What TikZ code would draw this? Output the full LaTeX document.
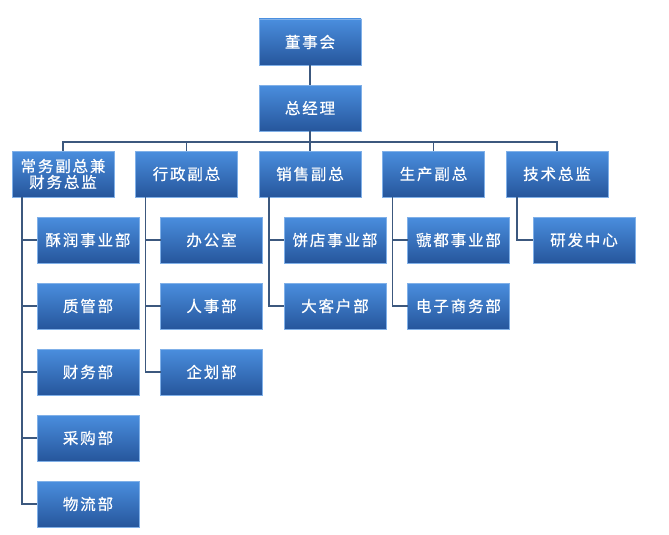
\documentclass[tikz,border=0pt]{standalone}
\usepackage{fontspec}
\newfontfamily\cjk[FakeBold=0.5, LetterSpace=12]{Noto Sans CJK SC}
\usetikzlibrary{positioning, shadows}
\definecolor{boxtop}{RGB}{74,142,222}
\definecolor{boxbot}{RGB}{38,86,156}
\definecolor{linkcol}{RGB}{60,88,126}
\tikzset{
    unit/.style={rectangle, draw=boxtop!70!white, line width=0.4pt,
        top color=boxtop, bottom color=boxbot, text=white,
        minimum width=102pt, minimum height=46pt, inner sep=1pt, outer sep=0pt,
        align=center, font=\cjk\fontsize{15.5}{18}\selectfont,
        drop shadow={shadow xshift=0.8pt, shadow yshift=-1.2pt, fill=black!35, opacity=0.5}},
    link/.style={draw=linkcol, line width=1.5pt},
}
\begin{document}
\begin{tikzpicture}[x=1pt, y=1pt]
        \useasboundingbox (0,0) rectangle (669,-535);

            % Top
            \node[unit] (board) at (310,-42) {董事会};
            \node[unit, below=20pt of board] (gm) {总经理};

            % Vice presidents
            \node[unit, below=20pt of gm] (sales) {销售副总};
            \node[unit, left=21.5pt of sales] (admin) {行政副总};
            \node[unit, left=21.5pt of admin] (fin) {常务副总兼\\[-2pt]财务总监};
            \node[unit, right=21.5pt of sales] (prod) {生产副总};
            \node[unit, right=21.5pt of prod] (tech) {技术总监};

            % Departments
            \node[unit, anchor=north west] (su) at ([shift={(25pt,-20pt)}]fin.south west) {酥润事业部};
            \node[unit, below=20pt of su] (qc) {质管部};
            \node[unit, below=20pt of qc] (acct) {财务部};
            \node[unit, below=20pt of acct] (buy) {采购部};
            \node[unit, below=20pt of buy] (logi) {物流部};

            \node[unit, anchor=north west] (office) at ([shift={(25pt,-20pt)}]admin.south west) {办公室};
            \node[unit, below=20pt of office] (hr) {人事部};
            \node[unit, below=20pt of hr] (plan) {企划部};

            \node[unit, anchor=north west] (shop) at ([shift={(25pt,-20pt)}]sales.south west) {饼店事业部};
            \node[unit, below=20pt of shop] (key) {大客户部};

            \node[unit, anchor=north west] (hao) at ([shift={(25pt,-20pt)}]prod.south west) {虢都事业部};
            \node[unit, below=20pt of hao] (ecom) {电子商务部};

            \node[unit, anchor=north west] (rd) at ([shift={(27pt,-20pt)}]tech.south west) {研发中心};

            % Connectors
            \coordinate (bus) at ([yshift=-11pt]gm.south);
            \draw[link] (board) -- (gm);
            \draw[link] (gm) -- (bus);
            \foreach \vp in {fin, admin, sales, prod, tech}
                \draw[link] (bus) -| (\vp.north);

            \foreach \vp/\dept in {fin/su, fin/qc, fin/acct, fin/buy, fin/logi,
                                   admin/office, admin/hr, admin/plan,
                                   sales/shop, sales/key,
                                   prod/hao, prod/ecom}
                \draw[link] ([xshift=10pt]\vp.south west) |- (\dept.west);
            \draw[link] ([xshift=11pt]tech.south west) |- (rd.west);

\end{tikzpicture}
\end{document}
